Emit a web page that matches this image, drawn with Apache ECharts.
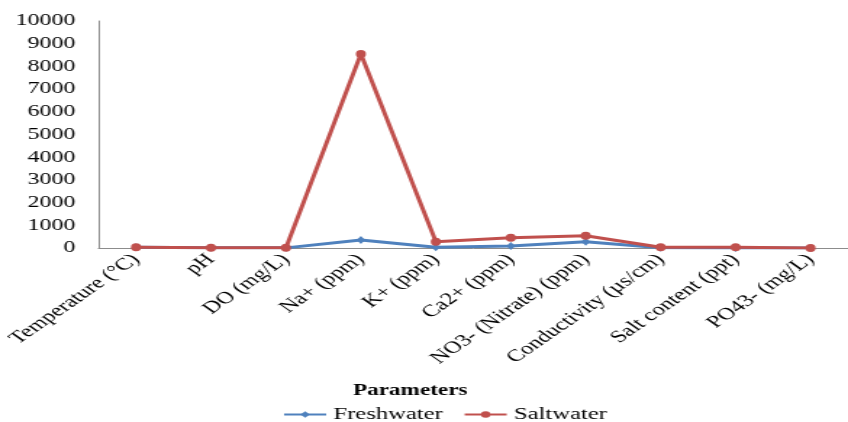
<!DOCTYPE html>
<html><head><meta charset="utf-8">
<script src="https://cdn.jsdelivr.net/npm/echarts@6/dist/echarts.min.js"></script>
<style>
html,body{margin:0;padding:0;background:#fff;overflow:hidden}
#wrap{width:848px;height:422px;overflow:hidden}
#c{width:585px;height:422px;transform:scaleX(1.4496);transform-origin:0 0}
</style>
</head><body><div id="wrap"><div id="c"></div></div>
<script>
var categories = ['Temperature (°C)','pH','DO (mg/L)','Na+ (ppm)','K+ (ppm)','Ca2+ (ppm)','NO3- (Nitrate) (ppm)','Conductivity (µs/cm)','Salt content (ppt)','PO43- (mg/L)'];
var freshwater = [28, 7.5, 6, 350, 30, 90, 280, 10, 0.5, 0.5];
var saltwater = [30, 8, 6, 8550, 280, 450, 540, 30, 30, 1];
var yTicks = [0,1000,2000,3000,4000,5000,6000,7000,8000,9000,10000];

var chart = echarts.init(document.getElementById('c'), null, {renderer:'canvas'});
var font = 'Liberation Serif';
chart.setOption({
  animation:false,
  title:{text:'Parameters',left:278,top:378,textAlign:'center',textStyle:{fontFamily:font,fontWeight:'bold',fontSize:16,color:'#000'}},
  legend:{top:401,left:190,itemGap:14,itemWidth:29,itemHeight:8,
    textStyle:{fontFamily:font,fontSize:17,color:'#000'},
    data:['Freshwater','Saltwater']},
  grid:{left:68,right:-11,top:21,bottom:174,containLabel:false},
  xAxis:{type:'category',data:categories,boundaryGap:true,
    axisLine:{lineStyle:{color:'#8c8c8c',width:1}},axisTick:{show:false},
    axisLabel:{rotate:45,interval:0,fontFamily:font,fontSize:17,color:'#000',margin:9}},
  yAxis:{type:'value',min:yTicks[0],max:yTicks[yTicks.length-1],interval:1000,
    axisLine:{show:true,lineStyle:{color:'#8c8c8c',width:1}},axisTick:{show:false},splitLine:{show:false},
    axisLabel:{fontFamily:font,fontSize:16.5,color:'#000',margin:16,formatter:function(v){return String(v);}}},
  series:[
    {name:'Freshwater',type:'line',data:freshwater,symbol:'diamond',symbolSize:[6,8],
     lineStyle:{color:'#4F81BD',width:3},itemStyle:{color:'#4F81BD'}},
    {name:'Saltwater',type:'line',data:saltwater,symbol:'circle',symbolSize:[7,8],
     lineStyle:{color:'#C0504D',width:3},itemStyle:{color:'#C0504D'}}
  ]
});
</script></body></html>
